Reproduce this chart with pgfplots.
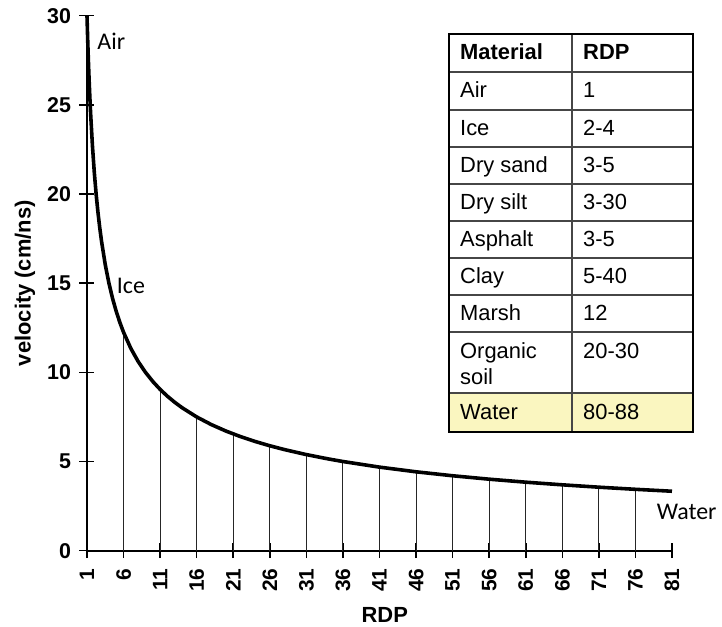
\documentclass[border=0pt]{standalone}
\usepackage{pgfplots}
\pgfplotsset{compat=1.18}
\usepackage{fontspec}
\setmainfont{Liberation Sans}
\newfontfamily\calibri{Carlito}
\definecolor{wateryellow}{RGB}{250,246,192}
\definecolor{rulegray}{RGB}{70,70,70}

\begin{document}
\begin{tikzpicture}
\begin{axis}[
  scale only axis, width=585bp, height=535bp,
  xmin=1, xmax=81, ymin=0, ymax=30,
  axis lines*=left,
  axis line style={line width=2pt},
  xtick={1,6,...,81}, ytick={0,5,...,30},
  tick align=center, major tick length=15bp,
  tick style={line width=1.6pt, black},
  /pgf/number format/assume math mode=true,
  xticklabel shift=7bp,
  x tick label style={rotate=90, anchor=east, font=\fontsize{21}{21}\selectfont\bfseries},
  y tick label style={xshift=-5bp, font=\fontsize{21.5}{21.5}\selectfont\bfseries},
  xlabel={RDP}, ylabel={velocity (cm/ns)},
  label style={font=\fontsize{22}{22}\selectfont\bfseries},
  xlabel style={at={(axis description cs:0.509,-0.121)}, anchor=center},
  ylabel style={at={(axis description cs:-0.106,0.5)}, anchor=center},
  clip=false,
]
\path (rel axis cs:-0.1487,-0.1396) rectangle (rel axis cs:1.0855,1.0293);
\coordinate (T) at (rel axis cs:0.6188,0.9658);
\addplot[ycomb, line width=1pt, black!85, mark=none] coordinates {
(6,12.247) (11,9.045) (16,7.500) (21,6.547) (26,5.883) (31,5.388) (36,5.000)
(41,4.685) (46,4.423) (51,4.201) (56,4.009) (61,3.841) (66,3.693) (71,3.560) (76,3.441)};
\addplot[line width=3.6pt, black, mark=none, line join=round] coordinates {
(1,30.000) (1.1,28.604) (1.2,27.386) (1.3,26.312) (1.4,25.355) (1.5,24.495)
(1.75,22.678) (2,21.213) (2.25,20.000) (2.5,18.974) (2.75,18.091) (3,17.321)
(3.5,16.036) (4,15.000) (4.5,14.142) (5,13.416) (5.5,12.792) (6,12.247)
(7,11.339) (8,10.607) (9,10.000) (10,9.487) (11,9.045) (12,8.660) (13,8.321)
(14,8.018) (16,7.500) (18,7.071) (20,6.708) (22,6.396) (24,6.124) (26,5.883)
(28,5.669) (31,5.388) (34,5.145) (36,5.000) (41,4.685) (46,4.423) (51,4.201)
(56,4.009) (61,3.841) (66,3.693) (71,3.560) (76,3.441) (81,3.333)};
\node[anchor=west, inner sep=0, font=\calibri\fontsize{24}{24}\selectfont] at (axis cs:2.41,28.55) {Air};
\node[anchor=west, inner sep=0, font=\calibri\fontsize{24}{24}\selectfont] at (axis cs:5.06,14.86) {Ice};
\node[anchor=west, inner sep=0, font=\calibri\fontsize{24}{24}\selectfont] at (axis cs:78.9,2.17) {Water};
\end{axis}
\begin{scope}[shift={(T)}, x=1bp, y=-1bp]
  \fill[white] (0,0) rectangle (244,398);
  \fill[wateryellow] (0,359) rectangle (244,398);
  \foreach \yy in {38,76,113,150,187,224,261,298,359}
    \draw[rulegray, line width=1.2pt] (0,\yy) -- (244,\yy);
  \draw[rulegray, line width=1.2pt] (123,0) -- (123,398);
  \draw[black, line width=2.2pt] (0,0) rectangle (244,398);
  \begin{scope}[every node/.style={anchor=base west, inner sep=0, font=\fontsize{22}{22}\selectfont}]
    \node at (11,26) {\bfseries Material};
    \node at (134,26) {\bfseries RDP};
    \node at (11,64) {Air};        \node at (134,64) {1};
    \node at (11,101.5) {Ice};     \node at (134,101.5) {2-4};
    \node at (11,138.5) {Dry sand};\node at (134,138.5) {3-5};
    \node at (11,175.5) {Dry silt};\node at (134,175.5) {3-30};
    \node at (11,212.5) {Asphalt}; \node at (134,212.5) {3-5};
    \node at (11,249.5) {Clay};    \node at (134,249.5) {5-40};
    \node at (11,286.5) {Marsh};   \node at (134,286.5) {12};
    \node at (11,325) {Organic};   \node at (134,325) {20-30};
    \node at (11,351) {soil};
    \node at (11,385.5) {Water};   \node at (134,385.5) {80-88};
  \end{scope}
\end{scope}
\end{tikzpicture}
\end{document}
